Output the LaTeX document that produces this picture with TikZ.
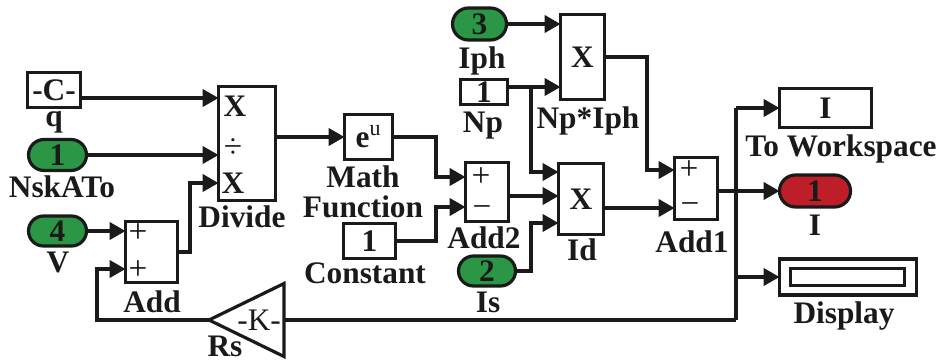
\documentclass[tikz,border=0pt]{standalone}
\usepackage{fontspec}
\setmainfont{Liberation Serif}
\usetikzlibrary{arrows.meta, shapes.misc, shapes.geometric}

\definecolor{inportgreen}{RGB}{43,150,70}
\definecolor{outportred}{RGB}{190,30,40}
\definecolor{inkblack}{RGB}{26,26,26}

\begin{document}
\begin{tikzpicture}[
  x=0.75pt, y=-0.75pt,
  inkblack,
  block/.style 2 args={rectangle, draw=inkblack, line width=2.4pt, fill=white, inner sep=0pt,
                outer sep=0pt, minimum width=#1*0.75pt, minimum height=#2*0.75pt,
                font=\bfseries\fontsize{23.5}{23.5}\selectfont},
  pill/.style 2 args={rounded rectangle, draw=inkblack, line width=2.4pt, inner sep=0pt,
                outer sep=0pt, minimum width=#1*0.75pt, minimum height=#2*0.75pt,
                font=\bfseries\fontsize{23.5}{23.5}\selectfont},
  caption/.style={anchor=base, inner sep=0pt, font=\bfseries\fontsize{23.5}{23.5}\selectfont},
  sign/.style={inner sep=0pt, font=\fontsize{25}{25}\selectfont},
  product/.style={inner sep=0pt, font=\bfseries\fontsize{23.5}{23.5}\selectfont},
  wire/.style={line width=2.4pt, draw=inkblack},
  arrowwire/.style={wire, -{Triangle[length=12pt, width=13pt]}}
]

\useasboundingbox (0,0) rectangle (941,361);

% Sources
\node[block={53}{35}] (q) at (54,90) {-C-};
\node[pill={58}{31}, fill=inportgreen] (nskato) at (57.5,155) {1};
\node[pill={58}{30}, fill=inportgreen] (v) at (57.5,231) {4};
\node[pill={54}{32}, fill=inportgreen] (iph) at (479.5,24) {3};
\node[block={47}{25}] (np) at (484,92) {1};
\node[pill={57}{30}, fill=inportgreen] (is) at (487,271) {2};
\node[block={52}{35}] (constant) at (369.5,241) {1};

% Operators
\node[block={57}{114}] (divide) at (247,143.5) {};
\node[block={52}{61}] (add) at (151.5,252) {};
\node[block={48}{45}] (math) at (368.5,137) {e\textsuperscript{\mdseries u}};
\node[block={43}{59}] (addtwo) at (487,192) {};
\node[block={44}{85}] (npiph) at (582.5,57) {X};
\node[block={45}{71}] (id) at (581,199) {X};
\node[block={43}{62}] (addone) at (696,188.5) {};
\node[isosceles triangle, isosceles triangle apex angle=53, isosceles triangle stretches,
  shape border rotate=180, draw=inkblack, line width=2.4pt, inner sep=0pt, outer sep=0pt,
  minimum width=73*0.75pt, minimum height=75*0.75pt, anchor=apex,
  font=\fontsize{23.5}{23.5}\selectfont] (rs) at (209,320) {-K-};

% Sinks
\node[block={92}{39}] (workspace) at (825.5,108) {I};
\node[pill={71}{32}, fill=outportred] (iout) at (815,191) {1};
\node[block={137}{36}] (display) at (848,277) {};
\node[block={114}{17}] (displaywin) at (847.5,277) {};

% Signs inside the blocks
\node[product] (dividea) at (235,106) {X};
\node[sign] (divideb) at (233,148) {÷};
\node[product] (dividec) at (233,183) {X};
\node[sign] (adda) at (138,233) {+};
\node[sign] (addb) at (138,270) {+};
\node[sign] (addtwoa) at (481,177) {+};
\node[sign] (addtwob) at (482,212) {−};
\node[sign] (addonea) at (689,170) {+};
\node[sign] (addoneb) at (690,209) {−};

% Block names
\node[caption] (qname) at (54,126) {q};
\node[caption] (nskatoname) at (62,197) {NskATo};
\node[caption] (vname) at (58,272) {V};
\node[caption] (dividename) at (242,227) {Divide};
\node[caption] (addname) at (152,312) {Add};
\node[caption] (rsname) at (225,356) {Rs};
\node[caption] (mathname) at (363,187) {Math};
\node[caption] (funcname) at (363,217) {Function};
\node[caption] (constantname) at (365,283) {Constant};
\node[caption] (addtwoname) at (484,248) {Add2};
\node[caption] (isname) at (488,312) {Is};
\node[caption] (iphname) at (482,68) {Iph};
\node[caption] (npname) at (483,132) {Np};
\node[caption] (npiphname) at (588,128) {Np*Iph};
\node[caption] (idname) at (582,260) {Id};
\node[caption] (addonename) at (692,252) {Add1};
\node[caption] (workspacename) at (841,156) {To Workspace};
\node[caption] (ioutname) at (815,235) {I};
\node[caption] (displayname) at (844,323) {Display};

% Ports and bends
\coordinate (divinq) at (218.5,98);
\coordinate (divinadd) at (218.5,183);
\coordinate (addoutp) at (177.5,252);
\coordinate (addinrs) at (125.5,269);
\coordinate (addtwoinm) at (465.5,177);
\coordinate (addtwoinc) at (465.5,207);
\coordinate (npiphiph) at (560.5,24);
\coordinate (npiphnp) at (560.5,87);
\coordinate (npout) at (507.5,87);
\coordinate (npsplit) at (531,87);
\coordinate (idinnp) at (558.5,172);
\coordinate (idinadd) at (558.5,196);
\coordinate (idinis) at (558.5,223);
\coordinate (addtwoout) at (508.5,196);
\coordinate (npiphout) at (604.5,57);
\coordinate (addoneinnp) at (674.5,170);
\coordinate (addoneinid) at (674.5,208);
\coordinate (idout) at (603.5,208);
\coordinate (addoneout) at (717.5,191);
\coordinate (split) at (736,191);
\coordinate (splitws) at (736,108);
\coordinate (splitdisp) at (736,277);
\coordinate (splitrs) at (736,320);

% Left part
\draw[arrowwire] (q.east |- divinq) -- (divinq);
\draw[arrowwire] (nskato.east) -- (divide.west |- nskato.east);
\draw[arrowwire] (v.east) -- (add.west |- v.east);
\draw[arrowwire] (addoutp) -| (190,183) -- (divinadd);
\draw[arrowwire] (rs.apex) -| (97,269) -- (addinrs);
\draw[arrowwire] (divide.east |- math.west) -- (math.west);

% Middle part
\draw[arrowwire] (math.east) -| (436,177) -- (addtwoinm);
\draw[arrowwire] (constant.east) -| (436,207) -- (addtwoinc);
\draw[arrowwire] (iph.east) -- (npiphiph);
\draw[arrowwire] (npout) -- (npiphnp);
\draw[arrowwire] (npsplit) |- (idinnp);
\draw[arrowwire] (addtwoout) -- (idinadd);
\draw[arrowwire] (is.east) -| (531,223) -- (idinis);

% Right part
\draw[arrowwire] (npiphout) -| (647,170) -- (addoneinnp);
\draw[arrowwire] (idout) -- (addoneinid);
\draw[arrowwire] (addoneout) -- (iout.west);
\draw[arrowwire] (splitws) -- (workspace.west);
\draw[arrowwire] (splitdisp) -- (display.west);
\draw[wire] (splitws) -- (split) -- (splitrs);
\draw[wire] (splitrs) -- (rs.lower side);

\end{tikzpicture}
\end{document}
